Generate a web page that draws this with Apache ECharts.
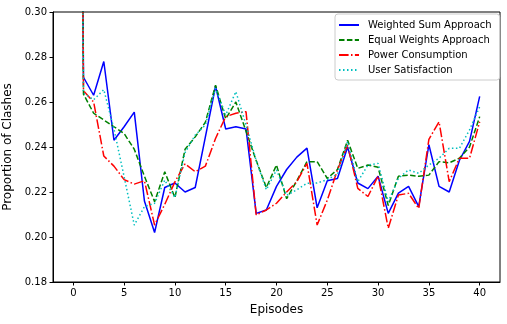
<!DOCTYPE html>
<html>
<head>
<meta charset="utf-8">
<script src="https://cdn.jsdelivr.net/npm/echarts@6/dist/echarts.min.js"></script>
<style>
  html, body { margin: 0; padding: 0; background: #fff; }
  #chart { width: 507px; height: 324px; }
</style>
</head>
<body>
<div id="chart"></div>
<script>
// episodes 0..40 (episode 0 sits far above the y range, only its steep drop shows)
const episodes = Array.from({ length: 41 }, (_, i) => i)
const xTicks = [0, 5, 10, 15, 20, 25, 30, 35, 40]

const weightedSum = [0.95, 0.271, 0.263, 0.278, 0.243, 0.249, 0.2555, 0.216, 0.202, 0.222,
  0.224, 0.220, 0.222, 0.2445, 0.267, 0.248, 0.249, 0.248, 0.2105, 0.212,
  0.2225, 0.230, 0.2355, 0.2395, 0.213, 0.225, 0.226, 0.240, 0.224, 0.2215,
  0.227, 0.2105, 0.2195, 0.2225, 0.2135, 0.241, 0.2225, 0.220, 0.234, 0.2425, 0.2625]
const equalWeights = [0.95, 0.2635, 0.255, 0.252, 0.249, 0.246, 0.239, 0.227, 0.2157, 0.229,
  0.2175, 0.239, 0.2445, 0.251, 0.2675, 0.2525, 0.260, 0.247, 0.234, 0.222,
  0.232, 0.217, 0.225, 0.2335, 0.2335, 0.226, 0.230, 0.243, 0.2305, 0.232,
  0.231, 0.214, 0.227, 0.2275, 0.227, 0.2275, 0.2335, 0.233, 0.235, 0.240, 0.2535]
const powerConsumption = [0.95, 0.265, 0.260, 0.236, 0.2315, 0.2255, 0.2235, 0.225, 0.2053, 0.2145,
  0.2245, 0.2325, 0.229, 0.2315, 0.2438, 0.2535, 0.255, 0.2557, 0.2098, 0.212,
  0.215, 0.220, 0.2246, 0.2327, 0.2053, 0.2164, 0.2298, 0.2409, 0.2216, 0.218,
  0.2271, 0.2039, 0.2187, 0.2194, 0.2127, 0.2434, 0.2512, 0.2246, 0.235, 0.235, 0.2512]
const userSatisfaction = [0.95, 0.264, 0.261, 0.2655, 0.248, 0.2268, 0.2053, 0.2135, 0.215, 0.2253,
  0.2175, 0.2375, 0.2453, 0.2498, 0.2661, 0.2542, 0.2646, 0.2498, 0.234, 0.221,
  0.2298, 0.2185, 0.221, 0.2239, 0.224, 0.2255, 0.228, 0.2424, 0.2246, 0.232,
  0.2327, 0.2157, 0.2261, 0.2298, 0.2283, 0.232, 0.235, 0.2394, 0.2394, 0.2476, 0.2579]

const FONT = 'DejaVu Sans'

function pairs (values) {
  return episodes.map((x, i) => [x, values[i]])
}

function makeLine (name, values, color, dash) {
  return {
    name: name,
    type: 'line',
    data: pairs(values),
    symbol: 'none',
    clip: true,
    lineStyle: { color: color, width: 1.5, type: dash },
    itemStyle: { color: color }
  }
}

const chart = echarts.init(document.getElementById('chart'), null, { renderer: 'canvas' })
chart.setOption({
  animation: false,
  backgroundColor: '#fff',
  grid: {
    left: 53,
    right: 7,
    top: 12,
    bottom: 42,
    outerBoundsMode: 'none',
    containLabel: false,
    show: true,
    borderColor: '#000',
    borderWidth: 1
  },
  legend: {
    orient: 'vertical',
    left: 335,
    top: 14,
    padding: [6, 8, 5, 3],
    itemWidth: 20,
    itemHeight: 10,
    itemGap: 5,
    borderColor: '#cccccc',
    borderWidth: 1,
    borderRadius: 3,
    backgroundColor: '#fff',
    itemStyle: { opacity: 0 }, // line only, no marker
    textStyle: { fontFamily: FONT, fontSize: 10, color: '#000', padding: [0, 0, 0, 4] },
    data: ['Weighted Sum Approach', 'Equal Weights Approach', 'Power Consumption', 'User Satisfaction']
  },
  xAxis: {
    type: 'value',
    min: -2,
    max: 42,
    name: 'Episodes',
    nameLocation: 'middle',
    nameGap: 22,
    nameTextStyle: { fontFamily: FONT, fontSize: 12, color: '#000' },
    axisLine: { show: true, onZero: false, lineStyle: { color: '#000', width: 1 } },
    axisTick: { show: true, length: 3.5, customValues: xTicks, lineStyle: { color: '#000' } },
    axisLabel: { customValues: xTicks, margin: 6, fontFamily: FONT, fontSize: 10, color: '#000' },
    splitLine: { show: false }
  },
  yAxis: {
    type: 'value',
    min: 0.18,
    max: 0.30,
    interval: 0.02,
    name: 'Proportion of Clashes',
    nameLocation: 'middle',
    nameRotate: 90,
    nameGap: 31,
    nameTextStyle: { fontFamily: FONT, fontSize: 12, color: '#000' },
    axisLine: { show: true, onZero: false, lineStyle: { color: '#000', width: 1 } },
    axisTick: { show: true, length: 3.5, lineStyle: { color: '#000' } },
    axisLabel: {
      margin: 6,
      fontFamily: FONT,
      fontSize: 10,
      color: '#000',
      formatter: function (value) {
        return value.toFixed(2)
      }
    },
    splitLine: { show: false }
  },
  series: [
    makeLine('Weighted Sum Approach', weightedSum, '#0000ff', 'solid'),
    makeLine('Equal Weights Approach', equalWeights, '#008000', [5.5, 2.4]),
    makeLine('Power Consumption', powerConsumption, '#ff0000', [9.6, 2.4, 1.5, 2.4]),
    makeLine('User Satisfaction', userSatisfaction, '#00bfbf', [1.5, 2.5])
  ]
})
</script>
</body>
</html>
